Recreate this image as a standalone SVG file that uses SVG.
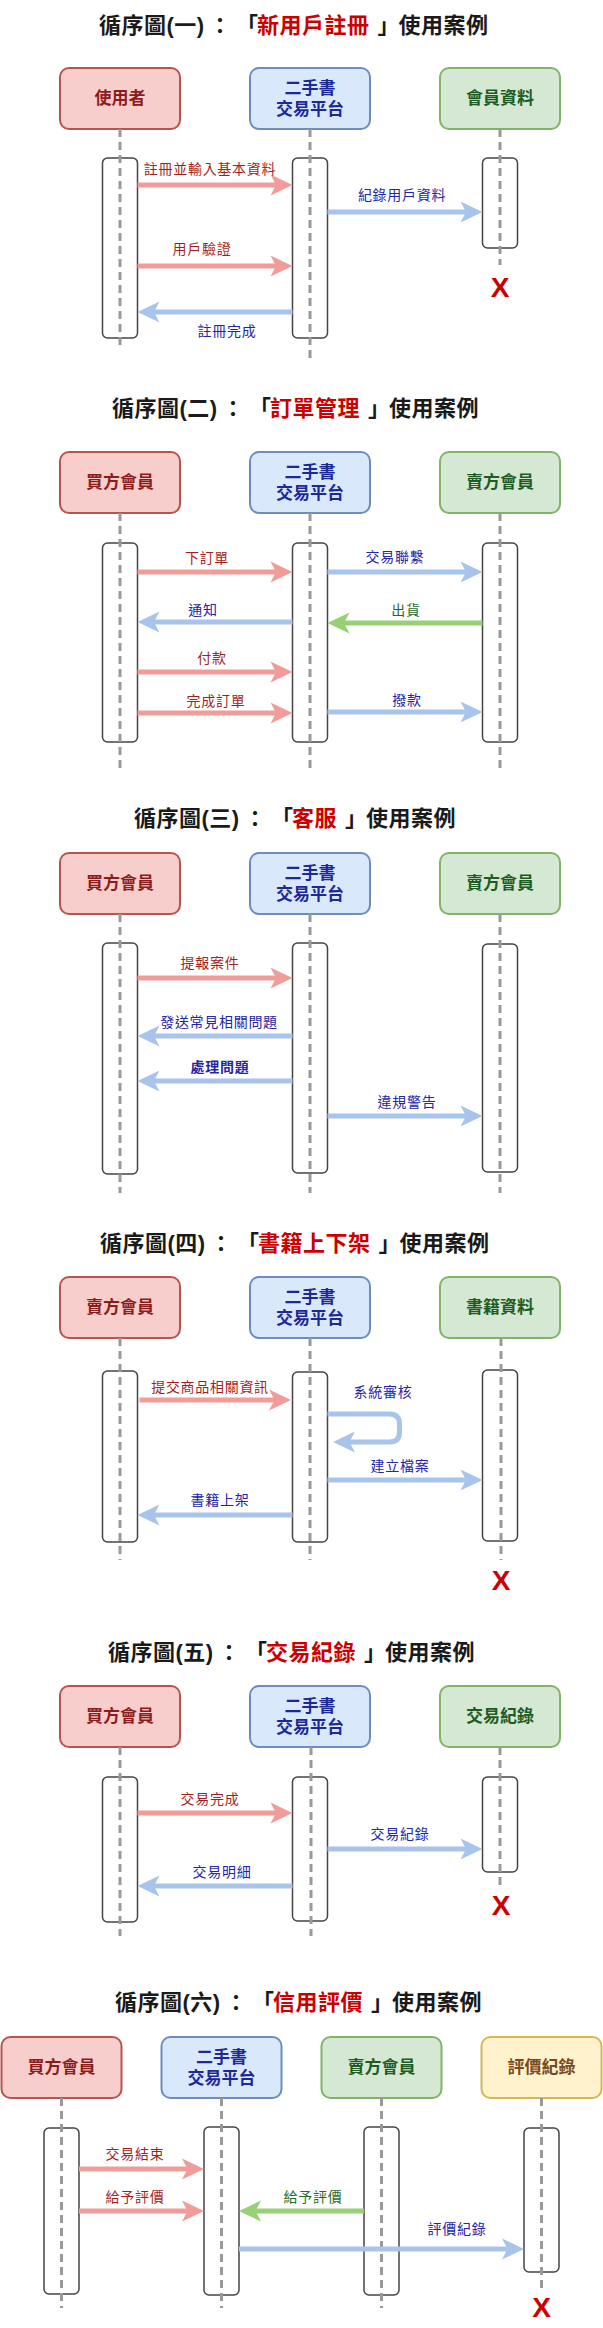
<svg xmlns="http://www.w3.org/2000/svg" width="603" height="2328" viewBox="0 0 603 2328">
<style>
.bg{fill:#ffffff}
.title{font-family:"Liberation Sans","Noto Sans CJK TC","Noto Sans CJK SC",sans-serif;font-weight:bold;font-size:22px;letter-spacing:0.5px;fill:#1a1a1a}
.hl{fill:#cc0000}
.hr{fill:#f8cecc;stroke:#b85450;stroke-width:2}
.hb{fill:#dae8fc;stroke:#6c8ebf;stroke-width:2}
.hg{fill:#d5e8d4;stroke:#82b366;stroke-width:2}
.hy{fill:#fff2cc;stroke:#d6b656;stroke-width:2}
.nt{font-family:"Noto Sans CJK TC","Noto Sans CJK SC",sans-serif;font-weight:bold;font-size:17px;text-anchor:middle}
.ntr{fill:#8c1c1c}
.ntb{fill:#1c2896}
.ntg{fill:#1d5c22}
.nty{fill:#7a4a1c}
.act{fill:#ffffff;stroke:#444444;stroke-width:1.5}
.life{stroke:#999999;stroke-width:3;stroke-dasharray:8 5;fill:none}
.xm{font-family:"Liberation Sans",sans-serif;font-weight:bold;font-size:28px;fill:#cc0000;text-anchor:middle}
.ar{fill:none;stroke-width:5;stroke-linejoin:round}
.ar-r{stroke:#f19c99;marker-end:url(#mh-r)}
.ar-b{stroke:#a9c4eb;marker-end:url(#mh-b)}
.ar-g{stroke:#97d077;marker-end:url(#mh-g)}
.lb{font-family:"Noto Sans CJK TC","Noto Sans CJK SC",sans-serif;font-size:14px;letter-spacing:0.7px;text-anchor:middle}
.lbr{fill:#a31f1f}
.lbb{fill:#2424a6}
.lbg{fill:#1e6b30}
.lbbold{font-weight:bold}
</style>
<defs>
<marker id="mh-r" markerUnits="userSpaceOnUse" viewBox="-8 -11 24 22" markerWidth="24" markerHeight="22" refX="0" refY="0" orient="auto"><path d="M15,0 L-7,-10.5 L-1.5,0 L-7,10.5 Z" fill="#f19c99"/></marker>
<marker id="mh-b" markerUnits="userSpaceOnUse" viewBox="-8 -11 24 22" markerWidth="24" markerHeight="22" refX="0" refY="0" orient="auto"><path d="M15,0 L-7,-10.5 L-1.5,0 L-7,10.5 Z" fill="#a9c4eb"/></marker>
<marker id="mh-g" markerUnits="userSpaceOnUse" viewBox="-8 -11 24 22" markerWidth="24" markerHeight="22" refX="0" refY="0" orient="auto"><path d="M15,0 L-7,-10.5 L-1.5,0 L-7,10.5 Z" fill="#97d077"/></marker>
</defs>
<rect class="bg" x="0" y="0" width="603" height="2328"/>

<!-- ===== Section 1 ===== -->
<g id="s1">
<text class="title" y="33"><tspan x="99">循序圖(一)</tspan><tspan x="209">：</tspan><tspan x="236">「</tspan><tspan class="hl" x="257">新用戶註冊</tspan><tspan x="377.5">」</tspan><tspan x="398.5">使用案例</tspan></text>
<g id="s1-user">
<rect class="hr" x="60" y="68" width="120" height="61" rx="9"/>
<text class="nt ntr" x="120" y="104">使用者</text>
<rect class="act" x="102.5" y="158" width="35" height="180" rx="5"/>
<line class="life" x1="120" y1="129" x2="120" y2="350"/>
</g>
<g id="s1-platform">
<rect class="hb" x="250" y="68" width="120" height="61" rx="9"/>
<text class="nt ntb" x="310" y="94">二手書</text>
<text class="nt ntb" x="310" y="115">交易平台</text>
<rect class="act" x="292.5" y="158" width="35" height="180" rx="5"/>
<line class="life" x1="310" y1="129" x2="310" y2="358"/>
</g>
<g id="s1-memberdata">
<rect class="hg" x="440" y="68" width="120" height="61" rx="9"/>
<text class="nt ntg" x="500" y="104">會員資料</text>
<rect class="act" x="482.5" y="158" width="35" height="90" rx="5"/>
<line class="life" x1="500" y1="129" x2="500" y2="265"/>
<text class="xm" x="500" y="297">X</text>
</g>
<g id="s1-connectors">
<path class="ar ar-r" d="M137.5,185 H277.5"/>
<text class="lb lbr" x="210" y="174">註冊並輸入基本資料</text>
<path class="ar ar-b" d="M327.5,212 H467.5"/>
<text class="lb lbb" x="402" y="200">紀錄用戶資料</text>
<path class="ar ar-r" d="M137.5,266 H277.5"/>
<text class="lb lbr" x="202" y="254">用戶驗證</text>
<path class="ar ar-b" d="M292.5,312 H152.5"/>
<text class="lb lbb" x="227" y="336">註冊完成</text>
</g>
</g>

<!-- ===== Section 2 ===== -->
<g id="s2">
<text class="title" y="416"><tspan x="112">循序圖(二)</tspan><tspan x="222">：</tspan><tspan x="249">「</tspan><tspan class="hl" x="270">訂單管理</tspan><tspan x="368">」</tspan><tspan x="389">使用案例</tspan></text>
<g id="s2-buyer">
<rect class="hr" x="60" y="452" width="120" height="61" rx="9"/>
<text class="nt ntr" x="120" y="488">買方會員</text>
<rect class="act" x="102.5" y="543" width="35" height="199" rx="5"/>
<line class="life" x1="120" y1="513" x2="120" y2="772"/>
</g>
<g id="s2-platform">
<rect class="hb" x="250" y="452" width="120" height="61" rx="9"/>
<text class="nt ntb" x="310" y="478">二手書</text>
<text class="nt ntb" x="310" y="499">交易平台</text>
<rect class="act" x="292.5" y="543" width="35" height="199" rx="5"/>
<line class="life" x1="310" y1="513" x2="310" y2="772"/>
</g>
<g id="s2-seller">
<rect class="hg" x="440" y="452" width="120" height="61" rx="9"/>
<text class="nt ntg" x="500" y="488">賣方會員</text>
<rect class="act" x="482.5" y="543" width="35" height="199" rx="5"/>
<line class="life" x1="500" y1="513" x2="500" y2="772"/>
</g>
<g id="s2-connectors">
<path class="ar ar-r" d="M137.5,572 H277.5"/>
<text class="lb lbr" x="207" y="563">下訂單</text>
<path class="ar ar-b" d="M327.5,572 H467.5"/>
<text class="lb lbb" x="395" y="562">交易聯繫</text>
<path class="ar ar-b" d="M292.5,622 H152.5"/>
<text class="lb lbb" x="203" y="615">通知</text>
<path class="ar ar-g" d="M482.5,623 H342.5"/>
<text class="lb lbg" x="406" y="615">出貨</text>
<path class="ar ar-r" d="M137.5,672 H277.5"/>
<text class="lb lbr" x="212" y="663">付款</text>
<path class="ar ar-r" d="M137.5,713 H277.5"/>
<text class="lb lbr" x="216" y="706">完成訂單</text>
<path class="ar ar-b" d="M327.5,712 H467.5"/>
<text class="lb lbb" x="407" y="705">撥款</text>
</g>
</g>

<!-- ===== Section 3 ===== -->
<g id="s3">
<text class="title" y="826"><tspan x="134">循序圖(三)</tspan><tspan x="244">：</tspan><tspan x="271">「</tspan><tspan class="hl" x="292">客服</tspan><tspan x="345">」</tspan><tspan x="366">使用案例</tspan></text>
<g id="s3-buyer">
<rect class="hr" x="60" y="853" width="120" height="61" rx="9"/>
<text class="nt ntr" x="120" y="889">買方會員</text>
<rect class="act" x="102.5" y="943" width="35" height="231" rx="5"/>
<line class="life" x1="120" y1="914" x2="120" y2="1193"/>
</g>
<g id="s3-platform">
<rect class="hb" x="250" y="853" width="120" height="61" rx="9"/>
<text class="nt ntb" x="310" y="879">二手書</text>
<text class="nt ntb" x="310" y="900">交易平台</text>
<rect class="act" x="292.5" y="943" width="35" height="230" rx="5"/>
<line class="life" x1="310" y1="914" x2="310" y2="1193"/>
</g>
<g id="s3-seller">
<rect class="hg" x="440" y="853" width="120" height="61" rx="9"/>
<text class="nt ntg" x="500" y="889">賣方會員</text>
<rect class="act" x="482.5" y="944" width="35" height="228" rx="5"/>
<line class="life" x1="500" y1="914" x2="500" y2="1193"/>
</g>
<g id="s3-connectors">
<path class="ar ar-r" d="M137.5,978 H277.5"/>
<text class="lb lbr" x="210" y="968">提報案件</text>
<path class="ar ar-b" d="M292.5,1036 H152.5"/>
<text class="lb lbb" x="219" y="1027">發送常見相關問題</text>
<path class="ar ar-b" d="M292.5,1081 H152.5"/>
<text class="lb lbb lbbold" x="220" y="1072">處理問題</text>
<path class="ar ar-b" d="M327.5,1116 H467.5"/>
<text class="lb lbb" x="407" y="1107">違規警告</text>
</g>
</g>

<!-- ===== Section 4 ===== -->
<g id="s4">
<text class="title" y="1251"><tspan x="100">循序圖(四)</tspan><tspan x="210">：</tspan><tspan x="237">「</tspan><tspan class="hl" x="258">書籍上下架</tspan><tspan x="378.5">」</tspan><tspan x="399.5">使用案例</tspan></text>
<g id="s4-seller">
<rect class="hr" x="60" y="1277" width="120" height="61" rx="9"/>
<text class="nt ntr" x="120" y="1313">賣方會員</text>
<rect class="act" x="102.5" y="1371" width="35" height="171" rx="5"/>
<line class="life" x1="120" y1="1338" x2="120" y2="1560"/>
</g>
<g id="s4-platform">
<rect class="hb" x="250" y="1277" width="120" height="61" rx="9"/>
<text class="nt ntb" x="310" y="1303">二手書</text>
<text class="nt ntb" x="310" y="1324">交易平台</text>
<rect class="act" x="292.5" y="1372" width="35" height="170" rx="5"/>
<line class="life" x1="310" y1="1338" x2="310" y2="1560"/>
</g>
<g id="s4-bookdata">
<rect class="hg" x="440" y="1277" width="120" height="61" rx="9"/>
<text class="nt ntg" x="500" y="1313">書籍資料</text>
<rect class="act" x="482.5" y="1370" width="35" height="171" rx="5"/>
<line class="life" x1="501" y1="1338" x2="501" y2="1560"/>
<text class="xm" x="501" y="1590">X</text>
</g>
<g id="s4-connectors">
<path class="ar ar-r" d="M139.5,1400 H276"/>
<text class="lb lbr" x="210" y="1392">提交商品相關資訊</text>
<path class="ar ar-b" d="M327.5,1414 H389.5 Q399.5,1414 399.5,1424 V1432 Q399.5,1442 389.5,1442 H348"/>
<text class="lb lbb" x="383" y="1397">系統審核</text>
<path class="ar ar-b" d="M327.5,1480 H467.5"/>
<text class="lb lbb" x="400" y="1471">建立檔案</text>
<path class="ar ar-b" d="M292.5,1515 H152.5"/>
<text class="lb lbb" x="220" y="1505">書籍上架</text>
</g>
</g>

<!-- ===== Section 5 ===== -->
<g id="s5">
<text class="title" y="1660"><tspan x="108">循序圖(五)</tspan><tspan x="218">：</tspan><tspan x="245">「</tspan><tspan class="hl" x="266">交易紀錄</tspan><tspan x="364">」</tspan><tspan x="385">使用案例</tspan></text>
<g id="s5-buyer">
<rect class="hr" x="60" y="1686" width="120" height="61" rx="9"/>
<text class="nt ntr" x="120" y="1722">買方會員</text>
<rect class="act" x="102.5" y="1777" width="35" height="145" rx="5"/>
<line class="life" x1="120" y1="1747" x2="120" y2="1936"/>
</g>
<g id="s5-platform">
<rect class="hb" x="250" y="1686" width="120" height="61" rx="9"/>
<text class="nt ntb" x="310" y="1712">二手書</text>
<text class="nt ntb" x="310" y="1733">交易平台</text>
<rect class="act" x="292.5" y="1777" width="35" height="144" rx="5"/>
<line class="life" x1="311" y1="1747" x2="311" y2="1936"/>
</g>
<g id="s5-tradelog">
<rect class="hg" x="440" y="1686" width="120" height="61" rx="9"/>
<text class="nt ntg" x="500" y="1722">交易紀錄</text>
<rect class="act" x="482.5" y="1777" width="35" height="95" rx="5"/>
<line class="life" x1="500" y1="1747" x2="500" y2="1886"/>
<text class="xm" x="501" y="1915">X</text>
</g>
<g id="s5-connectors">
<path class="ar ar-r" d="M137.5,1813 H277.5"/>
<text class="lb lbr" x="210" y="1804">交易完成</text>
<path class="ar ar-b" d="M327.5,1849 H467.5"/>
<text class="lb lbb" x="400" y="1839">交易紀錄</text>
<path class="ar ar-b" d="M292.5,1886 H152.5"/>
<text class="lb lbb" x="222" y="1877">交易明細</text>
</g>
</g>

<!-- ===== Section 6 ===== -->
<g id="s6">
<text class="title" y="2010"><tspan x="115">循序圖(六)</tspan><tspan x="225">：</tspan><tspan x="252">「</tspan><tspan class="hl" x="273">信用評價</tspan><tspan x="371">」</tspan><tspan x="392">使用案例</tspan></text>
<g id="s6-buyer">
<rect class="hr" x="1.5" y="2037" width="120" height="61" rx="9"/>
<text class="nt ntr" x="61.5" y="2073">買方會員</text>
<rect class="act" x="44" y="2128" width="35" height="166" rx="5"/>
<line class="life" x1="61.5" y1="2098" x2="61.5" y2="2308"/>
</g>
<g id="s6-platform">
<rect class="hb" x="161.5" y="2037" width="120" height="61" rx="9"/>
<text class="nt ntb" x="221.5" y="2063">二手書</text>
<text class="nt ntb" x="221.5" y="2084">交易平台</text>
<rect class="act" x="204" y="2127" width="35" height="168" rx="5"/>
<line class="life" x1="221.5" y1="2098" x2="221.5" y2="2308"/>
</g>
<g id="s6-seller">
<rect class="hg" x="321.5" y="2037" width="120" height="61" rx="9"/>
<text class="nt ntg" x="381.5" y="2073">賣方會員</text>
<rect class="act" x="364" y="2127" width="35" height="168" rx="5"/>
<line class="life" x1="381.5" y1="2098" x2="381.5" y2="2308"/>
</g>
<g id="s6-ratinglog">
<rect class="hy" x="481.5" y="2037" width="120" height="61" rx="9"/>
<text class="nt nty" x="541.5" y="2073">評價紀錄</text>
<rect class="act" x="524" y="2128" width="35" height="144" rx="5"/>
<line class="life" x1="541.5" y1="2098" x2="541.5" y2="2288"/>
<text class="xm" x="541.5" y="2317">X</text>
</g>
<g id="s6-connectors">
<path class="ar ar-r" d="M79,2169 H189"/>
<text class="lb lbr" x="135" y="2159">交易結束</text>
<path class="ar ar-r" d="M79,2211 H189"/>
<text class="lb lbr" x="135" y="2202">給予評價</text>
<path class="ar ar-g" d="M364,2211 H254"/>
<text class="lb lbg" x="313" y="2202">給予評價</text>
<path class="ar ar-b" d="M239,2249 H509"/>
<text class="lb lbb" x="457" y="2234">評價紀錄</text>
</g>
</g>
</svg>
